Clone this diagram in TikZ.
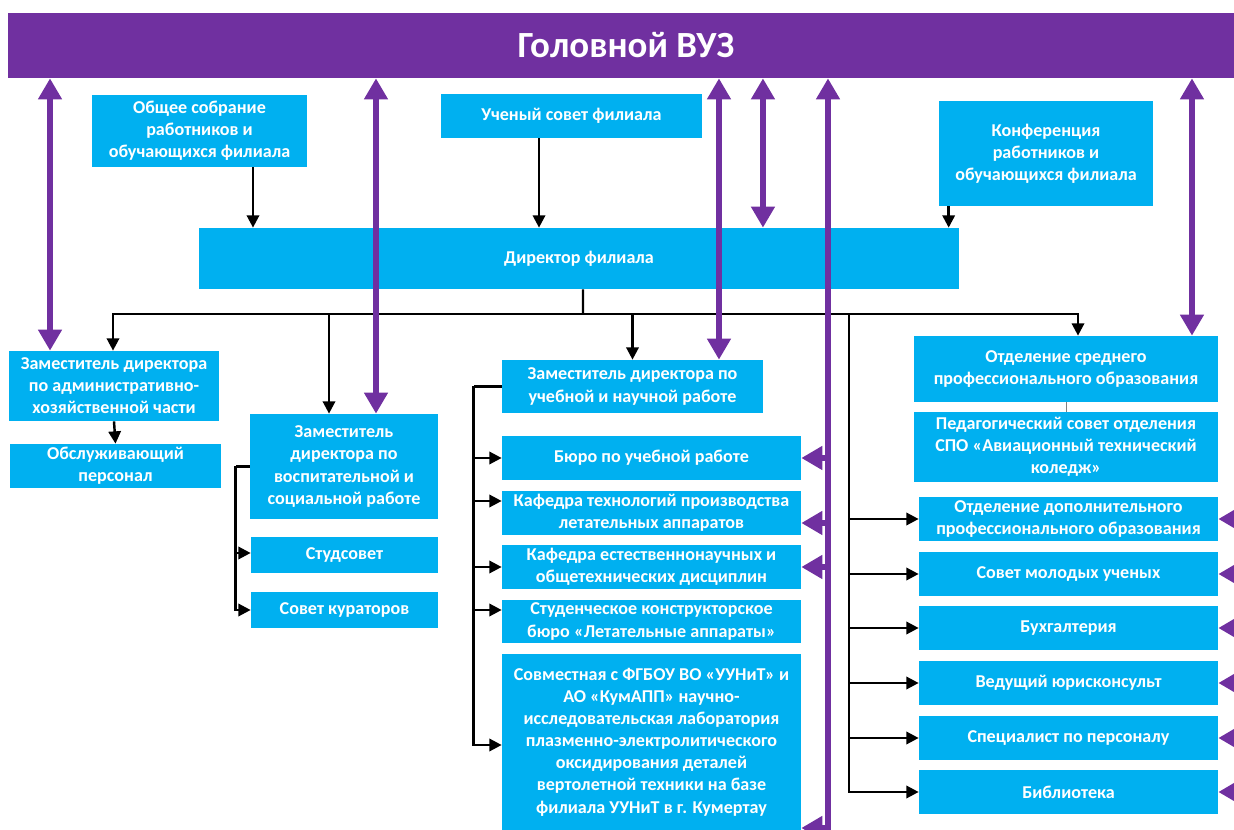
\documentclass[tikz,border=0pt]{standalone}
\usepackage{fontspec}
\setmainfont{Carlito}
\usepackage{tikz}
\usetikzlibrary{arrows.meta, positioning, calc}
\definecolor{boxblue}{RGB}{0, 176, 240}
\definecolor{headviolet}{RGB}{112, 48, 160}

\begin{document}
\begin{tikzpicture}[
    x=0.02cm, y=-0.02cm,
    unit/.style={fill=boxblue, inner sep=1pt, minimum height=0.88cm, text=white, align=center,
        font=\fontsize{10.3}{12.6}\selectfont\bfseries},
    head/.style={fill=headviolet, inner sep=0pt, text=white, font=\fontsize{21}{25}\selectfont\bfseries},
    blk/.style={-{Triangle[width=7pt,length=7pt]}, line width=1.4pt, black},
    link/.style={line width=1.4pt, black},
    vio/.style={-{Triangle[width=13pt,length=12pt]}, line width=3.4pt, headviolet},
    dbl/.style={{Triangle[width=13pt,length=12pt]}-{Triangle[width=13pt,length=12pt]}, line width=3.4pt, headviolet},
]
    \useasboundingbox (0,0) rectangle (1234,830);
    \clip (0,0) rectangle (1234,830);

    % Head
    \node[head, minimum width=24.72cm, minimum height=1.3cm] (vuz) at (626, 45.5) {Головной ВУЗ};

    % Top level
    \node[unit, minimum width=4.3cm, minimum height=1.44cm] (obsch) at (199.5, 131) {Общее собрание\\работников и\\обучающихся филиала};
    \node[unit, minimum width=5.22cm] (uchsov) at (571.5, 116) {Ученый совет филиала};
    \node[unit, minimum width=4.28cm, minimum height=2.1cm] (konf) at (1046, 153.5) {Конференция\\работников и\\обучающихся филиала};
    \node[unit, minimum width=15.2cm, minimum height=1.22cm] (dir) at (579, 258.5) {Директор филиала};

    % Deputies, left
    \node[unit, minimum width=4.2cm, minimum height=1.4cm] (zamahch) at (114, 386) {Заместитель директора\\по административно-\\хозяйственной части};
    \node[unit, minimum width=4.22cm] (obsl) at (115.5, 466) {Обслуживающий\\персонал};
    \node[unit, minimum width=3.76cm, minimum height=2.1cm] (zamvosp) at (344, 466.5) {Заместитель\\директора по\\воспитательной и\\социальной работе};
    \node[unit, minimum width=3.74cm, minimum height=0.72cm] (studsov) at (344.5, 555) {Студсовет};
    \node[unit, minimum width=3.74cm, minimum height=0.72cm] (kurat) at (344.5, 610) {Совет кураторов};

    % Deputy for study, middle
    \node[unit, minimum width=5.22cm, minimum height=1.06cm] (zamuch) at (632.5, 386.5) {Заместитель директора по\\учебной и научной работе};
    \node[unit, minimum width=5.98cm] (buro) at (651.5, 458) {Бюро по учебной работе};
    \node[unit, minimum width=5.98cm] (kaftex) at (651.5, 513) {Кафедра технологий производства\\летательных аппаратов};
    \node[unit, minimum width=5.98cm] (kafest) at (651.5, 567) {Кафедра естественнонаучных и\\общетехнических дисциплин};
    \node[unit, minimum width=5.98cm, minimum height=0.86cm] (skb) at (651.5, 621.5) {Студенческое конструкторское\\бюро «Летательные аппараты»};
    \node[unit, minimum width=5.98cm, minimum height=3.52cm] (lab) at (651.5, 742) {Совместная с ФГБОУ ВО «УУНиТ» и\\АО «КумАПП» научно-\\исследовательская лаборатория\\плазменно-электролитического\\оксидирования деталей\\вертолетной техники на базе\\филиала УУНиТ в г. Кумертау};

    % Right column
    \node[unit, minimum width=6.08cm, minimum height=1.32cm] (spo) at (1066, 369) {Отделение среднего\\профессионального образования};
    \node[unit, minimum width=6.08cm, minimum height=1.4cm] (pedsov) at (1066, 447) {Педагогический совет отделения\\СПО «Авиационный технический\\коледж»};
    \node[unit, minimum width=5.98cm] (dpo) at (1068.5, 519) {Отделение дополнительного\\профессионального образования};
    \node[unit, minimum width=5.98cm] (molod) at (1068.5, 574) {Совет молодых ученых};
    \node[unit, minimum width=5.98cm] (buh) at (1068.5, 628) {Бухгалтерия};
    \node[unit, minimum width=5.98cm] (yur) at (1068.5, 683) {Ведущий юрисконсульт};
    \node[unit, minimum width=5.98cm] (kadr) at (1068.5, 738) {Специалист по персоналу};
    \node[unit, minimum width=5.98cm] (bibl) at (1068.5, 792) {Библиотека};

    \coordinate (bus) at (583, 314);
    \coordinate (rtrunk) at (849, 314);
    \coordinate (vtrunk) at (828, 828);

    % Black connections
    \draw[blk] ([xshift=1.07cm]obsch.south) -- ([xshift=1.07cm]obsch.south |- dir.north);
    \draw[blk] ([xshift=-0.65cm]uchsov.south) -- ([xshift=-0.65cm]uchsov.south |- dir.north);
    \draw[blk] ([xshift=0.2cm]konf.south west) -- ([xshift=0.2cm]konf.south west |- dir.north);
    \draw[link] ([xshift=0.08cm]dir.south) -- (bus);
    \draw[link] (bus -| zamahch.north) -- ([xshift=0.24cm]bus -| spo.north);
    \draw[blk] (bus) -| ([xshift=-0.02cm]zamahch.north);
    \draw[blk] (bus) -| ([xshift=-0.3cm]zamvosp.north);
    \draw[blk] (bus) -| (zamuch.north);
    \draw[blk] (bus) -| ([xshift=0.24cm]spo.north);
    \draw[blk] (zamahch.south) -- (obsl.north);
    \draw[gray, thin] (spo.south) -- (pedsov.north);

    \draw[link] (zamvosp.west) -- ++(-0.28cm, 0) coordinate (vbr);
    \draw[blk] (vbr) |- ([yshift=0.04cm]studsov.west);
    \draw[blk] (vbr) |- (kurat.west);

    \draw[link] (zamuch.west) -- ++(-0.56cm, 0) coordinate (ubr);
    \draw[blk] (ubr) |- (buro.west);
    \draw[blk] (ubr) |- ([yshift=0.24cm]kaftex.west);
    \draw[blk] (ubr) |- (kafest.west);
    \draw[blk] (ubr) |- ([yshift=0.23cm]skb.west);
    \draw[blk] (ubr) |- ([yshift=-0.06cm]lab.west);

    \draw[blk] (rtrunk) |- (dpo.west);
    \draw[blk] (rtrunk) |- (molod.west);
    \draw[blk] (rtrunk) |- (buh.west);
    \draw[blk] (rtrunk) |- (yur.west);
    \draw[blk] (rtrunk) |- (kadr.west);
    \draw[blk] (rtrunk) |- (bibl.west);

    % Links to the head
    \draw[dbl] ([xshift=-1.28cm]zamahch.north) -- ([xshift=-1.28cm]zamahch.north |- vuz.south);
    \draw[dbl] ([xshift=0.64cm]zamvosp.north) -- ([xshift=0.64cm]zamvosp.north |- vuz.south);
    \draw[dbl] ([xshift=1.73cm]zamuch.north) -- ([xshift=1.73cm]zamuch.north |- vuz.south);
    \draw[dbl] ([xshift=3.68cm]dir.north) -- ([xshift=3.68cm]dir.north |- vuz.south);
    \draw[dbl] ([xshift=2.52cm]spo.north) -- ([xshift=2.52cm]spo.north |- vuz.south);
    \draw[dbl] (lab.east |- vtrunk) -- (vtrunk) -- (vtrunk |- vuz.south);
    \draw[vio] (vtrunk |- buro.east) -- (buro.east);
    \draw[vio] ([yshift=-0.2cm]vtrunk |- kaftex.east) -- ([yshift=-0.2cm]kaftex.east);
    \draw[vio] (vtrunk |- kafest.east) -- (kafest.east);

    \foreach \n in {dpo, molod, buh, yur, kadr, bibl}
        \draw[vio] ([xshift=0.6cm]\n.east) -- (\n.east);

\end{tikzpicture}
\end{document}
